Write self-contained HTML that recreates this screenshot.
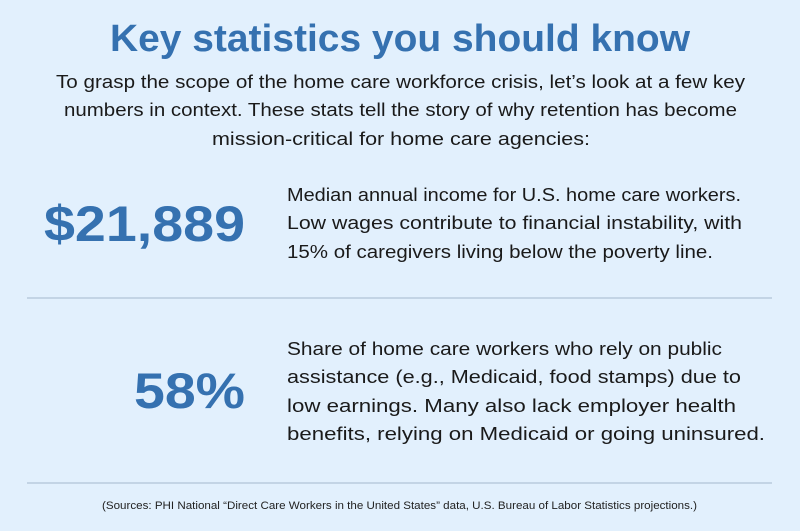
<!DOCTYPE html>
<html><head><meta charset="utf-8"><style>
html,body{margin:0;padding:0;background:#e2f0fd;}
svg{display:block}
text{font-family:"Liberation Sans",sans-serif;}
</style></head><body>
<svg width="800" height="531" xmlns="http://www.w3.org/2000/svg">
<rect width="800" height="531" fill="#e2f0fd"/>
<text x="110" y="51" font-size="38" font-weight="bold" fill="#3571b0" textLength="580" lengthAdjust="spacingAndGlyphs">Key statistics you should know</text>
<g font-size="18" fill="#1a1a1a">
<text x="56" y="88" textLength="689" lengthAdjust="spacingAndGlyphs">To grasp the scope of the home care workforce crisis, let’s look at a few key</text>
<text x="64" y="116" textLength="673" lengthAdjust="spacingAndGlyphs">numbers in context. These stats tell the story of why retention has become</text>
<text x="212" y="145" textLength="378" lengthAdjust="spacingAndGlyphs">mission-critical for home care agencies:</text>
<text x="287" y="201" textLength="454" lengthAdjust="spacingAndGlyphs">Median annual income for U.S. home care workers.</text>
<text x="287" y="229" textLength="455" lengthAdjust="spacingAndGlyphs">Low wages contribute to financial instability, with</text>
<text x="287" y="258" textLength="426" lengthAdjust="spacingAndGlyphs">15% of caregivers living below the poverty line.</text>
<text x="287" y="355" textLength="435" lengthAdjust="spacingAndGlyphs">Share of home care workers who rely on public</text>
<text x="287" y="383" textLength="454" lengthAdjust="spacingAndGlyphs">assistance (e.g., Medicaid, food stamps) due to</text>
<text x="287" y="412" textLength="449" lengthAdjust="spacingAndGlyphs">low earnings. Many also lack employer health</text>
<text x="287" y="440" textLength="478" lengthAdjust="spacingAndGlyphs">benefits, relying on Medicaid or going uninsured.</text>
</g>
<text x="44" y="241" font-size="50" font-weight="bold" fill="#3571b0" textLength="201" lengthAdjust="spacingAndGlyphs">$21,889</text>
<text x="134" y="408" font-size="50" font-weight="bold" fill="#3571b0" textLength="111" lengthAdjust="spacingAndGlyphs">58%</text>
<rect x="27" y="297" width="745" height="2" fill="#c3d4e5"/>
<rect x="27" y="482" width="745" height="2" fill="#c3d4e5"/>
<text x="102" y="509" font-size="11" fill="#222" textLength="595" lengthAdjust="spacingAndGlyphs">(Sources: PHI National “Direct Care Workers in the United States” data, U.S. Bureau of Labor Statistics projections.)</text>
</svg>
</body></html>
